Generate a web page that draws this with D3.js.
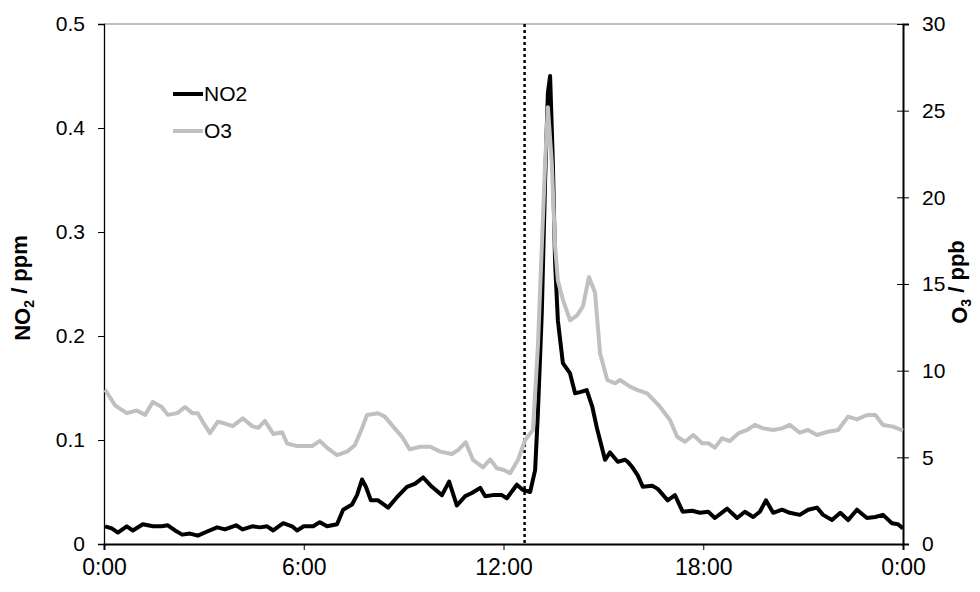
<!DOCTYPE html>
<html>
<head>
<meta charset="utf-8">
<script src="https://cdn.jsdelivr.net/npm/d3@7"></script>
<style>
  body { margin: 0; background: #fff; }
  svg { display: block; font-family: Arial, "Liberation Sans", sans-serif; }
  .tick text { fill: #000; }
</style>
</head>
<body>
<svg width="980" height="592"></svg>
<script>
// ---- data ----
var no2Times = ["0:02","0:14","0:25","0:41","0:52","1:10","1:28","1:44","1:55","2:08","2:21","2:35","2:49",
  "3:06","3:24","3:38","3:58","4:10","4:27","4:41","4:54","5:05","5:23","5:39","5:48","6:00","6:08","6:17",
  "6:29","6:42","7:00","7:11","7:27","7:36","7:45","7:52","8:01","8:14","8:32","8:48","9:06","9:21","9:35",
  "9:51","10:09","10:22","10:36","10:51","11:03","11:18","11:27","11:41","11:57","12:06","12:24","12:35",
  "12:48","12:57","13:02","13:09","13:15","13:20","13:24","13:29","13:33","13:38","13:47","14:00","14:09",
  "14:18","14:30","14:40","14:49","15:03","15:12","15:26","15:39","15:44","15:52","16:02","16:11","16:28",
  "16:38","16:56","17:09","17:23","17:40","17:54","18:09","18:21","18:43","19:01","19:15","19:30","19:42",
  "19:53","20:06","20:22","20:36","20:54","21:09","21:25","21:36","21:52","22:07","22:21","22:37","22:55",
  "23:10","23:24","23:40","23:51","24:00"];
var no2Values = [0.017,0.015,0.011,0.017,0.013,0.019,0.017,0.017,0.018,0.013,0.009,0.010,0.008,
  0.012,0.016,0.014,0.018,0.014,0.017,0.016,0.017,0.013,0.020,0.017,0.013,0.017,0.017,0.017,
  0.021,0.017,0.019,0.033,0.038,0.047,0.062,0.055,0.042,0.042,0.035,0.045,0.055,0.058,0.064,
  0.055,0.047,0.060,0.037,0.046,0.049,0.054,0.046,0.047,0.047,0.044,0.057,0.052,
  0.050,0.071,0.126,0.222,0.350,0.434,0.450,0.366,0.270,0.215,0.174,0.164,0.145,
  0.146,0.148,0.132,0.110,0.081,0.088,0.079,0.081,0.079,0.074,0.066,0.055,0.056,
  0.053,0.042,0.047,0.031,0.032,0.030,0.031,0.025,0.034,0.025,0.031,0.026,0.031,
  0.042,0.030,0.033,0.030,0.028,0.033,0.035,0.028,0.023,0.030,0.023,0.033,0.025,
  0.026,0.028,0.020,0.019,0.015];

var o3Times = ["0:02","0:20","0:41","0:59","1:14","1:28","1:44","1:55","2:12","2:26","2:39","2:49","2:58",
  "3:11","3:25","3:38","3:52","4:10","4:27","4:38","4:50","5:05","5:21","5:30","5:48","6:00","6:15","6:29",
  "6:44","7:00","7:18","7:32","7:45","7:54","8:14","8:26","8:44","8:57","9:11","9:30","9:48","10:06",
  "10:27","10:38","10:52","11:05","11:23","11:36","11:48","12:01","12:12","12:26","12:39","12:53","13:02",
  "13:09","13:15","13:20","13:27","13:33","13:38","13:47","14:00","14:13","14:23","14:34","14:45","14:54",
  "15:07","15:21","15:30","15:48","16:02","16:19","16:42","17:00","17:13","17:27","17:42","17:58","18:09",
  "18:21","18:34","18:48","19:03","19:19","19:33","19:48","20:06","20:22","20:36","20:54","21:09","21:25",
  "21:45","22:03","22:21","22:37","22:55","23:10","23:24","23:42","24:00"];
var o3Values = [8.9,8.0,7.55,7.7,7.45,8.2,7.9,7.45,7.55,7.9,7.55,7.55,7.05,
  6.4,7.05,6.95,6.8,7.25,6.8,6.7,7.1,6.35,6.45,5.8,5.65,5.65,5.65,5.95,
  5.5,5.13,5.33,5.7,6.67,7.44,7.54,7.35,6.67,6.19,5.46,5.61,5.61,5.33,
  5.19,5.42,5.87,4.85,4.42,4.88,4.37,4.27,4.08,4.85,6.0,6.58,11.4,
  17.15,21.96,25.2,22.0,17.15,15.2,14.1,12.9,13.2,13.7,15.4,14.5,11.0,
  9.46,9.27,9.46,9.08,8.88,8.69,7.92,7.15,6.19,5.9,6.29,5.81,5.81,
  5.56,6.1,5.94,6.38,6.58,6.87,6.67,6.58,6.67,6.87,6.42,6.58,6.29,
  6.48,6.58,7.35,7.19,7.44,7.44,6.87,6.77,6.54];

var markerTime = "12:38";
var xTicks = ["0:00","6:00","12:00","18:00","24:00"];
var xTickLabels = ["0:00","6:00","12:00","18:00","0:00"];
var leftTicks = [0, 0.1, 0.2, 0.3, 0.4, 0.5];
var rightTicks = [0, 5, 10, 15, 20, 25, 30];
var seriesNames = ["NO2", "O3"];
var seriesColors = ["#000000", "#c0c0c0"];

// "HH:MM" -> minutes after midnight
function toMin(s) {
  var p = s.split(":");
  return (+p[0]) * 60 + (+p[1]);
}

var margin = {top: 24, right: 77, bottom: 48, left: 104},
    width = 980 - margin.left - margin.right,
    height = 592 - margin.top - margin.bottom;

var svg = d3.select("svg")
  .append("g")
  .attr("transform", "translate(" + margin.left + "," + margin.top + ")");

var x = d3.scaleLinear().domain([0, 1440]).range([0, width]);
var yL = d3.scaleLinear().domain([0, 0.5]).range([height, 0]);
var yR = d3.scaleLinear().domain([0, 30]).range([height, 0]);

// top border
svg.append("line")
  .attr("x1", 0).attr("x2", width)
  .attr("y1", 0).attr("y2", 0)
  .attr("stroke", "#808080").attr("stroke-width", 1);

// left axis
var gl = svg.append("g")
  .call(d3.axisLeft(yL).tickValues(leftTicks).tickSize(6).tickPadding(13)
    .tickFormat(function(d) { return d === 0 ? "0" : d3.format(".1f")(d); }));
gl.selectAll("text").style("font-size", "21px");
gl.select(".domain").attr("stroke-width", 1.3);

// right axis, ticks cross the line
var gr = svg.append("g")
  .attr("transform", "translate(" + width + ",0)")
  .call(d3.axisRight(yR).tickValues(rightTicks).tickSize(6).tickPadding(13));
gr.selectAll(".tick line").attr("x1", -6).attr("x2", 6);
gr.selectAll("text").style("font-size", "21px");
gr.select(".domain").attr("stroke-width", 2);

// bottom axis
var gb = svg.append("g")
  .attr("transform", "translate(0," + height + ")")
  .call(d3.axisBottom(x).tickValues(xTicks.map(toMin)).tickSize(6).tickPadding(9)
    .tickFormat(function(d, i) { return xTickLabels[i]; }));
gb.selectAll("text").style("font-size", "23px");
gb.select(".domain").attr("stroke-width", 2);

// dotted marker
svg.append("line")
  .attr("x1", x(toMin(markerTime))).attr("x2", x(toMin(markerTime)))
  .attr("y1", 0).attr("y2", height)
  .attr("stroke", "#000").attr("stroke-width", 2.5)
  .attr("stroke-dasharray", "3,3");

// series lines
var no2Line = d3.line()
  .x(function(d, i) { return x(toMin(no2Times[i])); })
  .y(function(d) { return yL(d); });
var o3Line = d3.line()
  .x(function(d, i) { return x(toMin(o3Times[i])); })
  .y(function(d) { return yR(d); });

svg.append("path")
  .datum(no2Values)
  .attr("d", no2Line)
  .attr("fill", "none")
  .attr("stroke", seriesColors[0])
  .attr("stroke-width", 4)
  .attr("stroke-linejoin", "round");

svg.append("path")
  .datum(o3Values)
  .attr("d", o3Line)
  .attr("fill", "none")
  .attr("stroke", seriesColors[1])
  .attr("stroke-width", 4)
  .attr("stroke-linejoin", "round");

// axis titles
var tl = svg.append("text")
  .attr("transform", "translate(" + (22 - margin.left) + "," + (height / 2 + 4) + ") rotate(-90)")
  .attr("text-anchor", "middle")
  .attr("dy", "0.35em")
  .style("font-size", "22px").style("font-weight", "bold");
tl.append("tspan").text("NO");
tl.append("tspan").attr("dy", "0.3em").style("font-size", "14px").text("2");
tl.append("tspan").attr("dy", "-0.3em").text(" / ppm");

var tr = svg.append("text")
  .attr("transform", "translate(" + (width + 56) + "," + (height / 2 - 2) + ") rotate(-90)")
  .attr("text-anchor", "middle")
  .attr("dy", "0.35em")
  .style("font-size", "22px").style("font-weight", "bold");
tr.append("tspan").text("O");
tr.append("tspan").attr("dy", "0.3em").style("font-size", "14px").text("3");
tr.append("tspan").attr("dy", "-0.3em").text(" / ppb");

// legend
var legend = svg.append("g").attr("transform", "translate(69,70)");
seriesNames.forEach(function(name, i) {
  var g = legend.append("g").attr("transform", "translate(0," + (i * 37) + ")");
  g.append("line")
    .attr("x1", 0).attr("x2", 30)
    .attr("stroke", seriesColors[i]).attr("stroke-width", 4);
  g.append("text")
    .attr("x", 31).attr("dy", "0.35em")
    .style("font-size", "21px")
    .text(name);
});
</script>
</body>
</html>
